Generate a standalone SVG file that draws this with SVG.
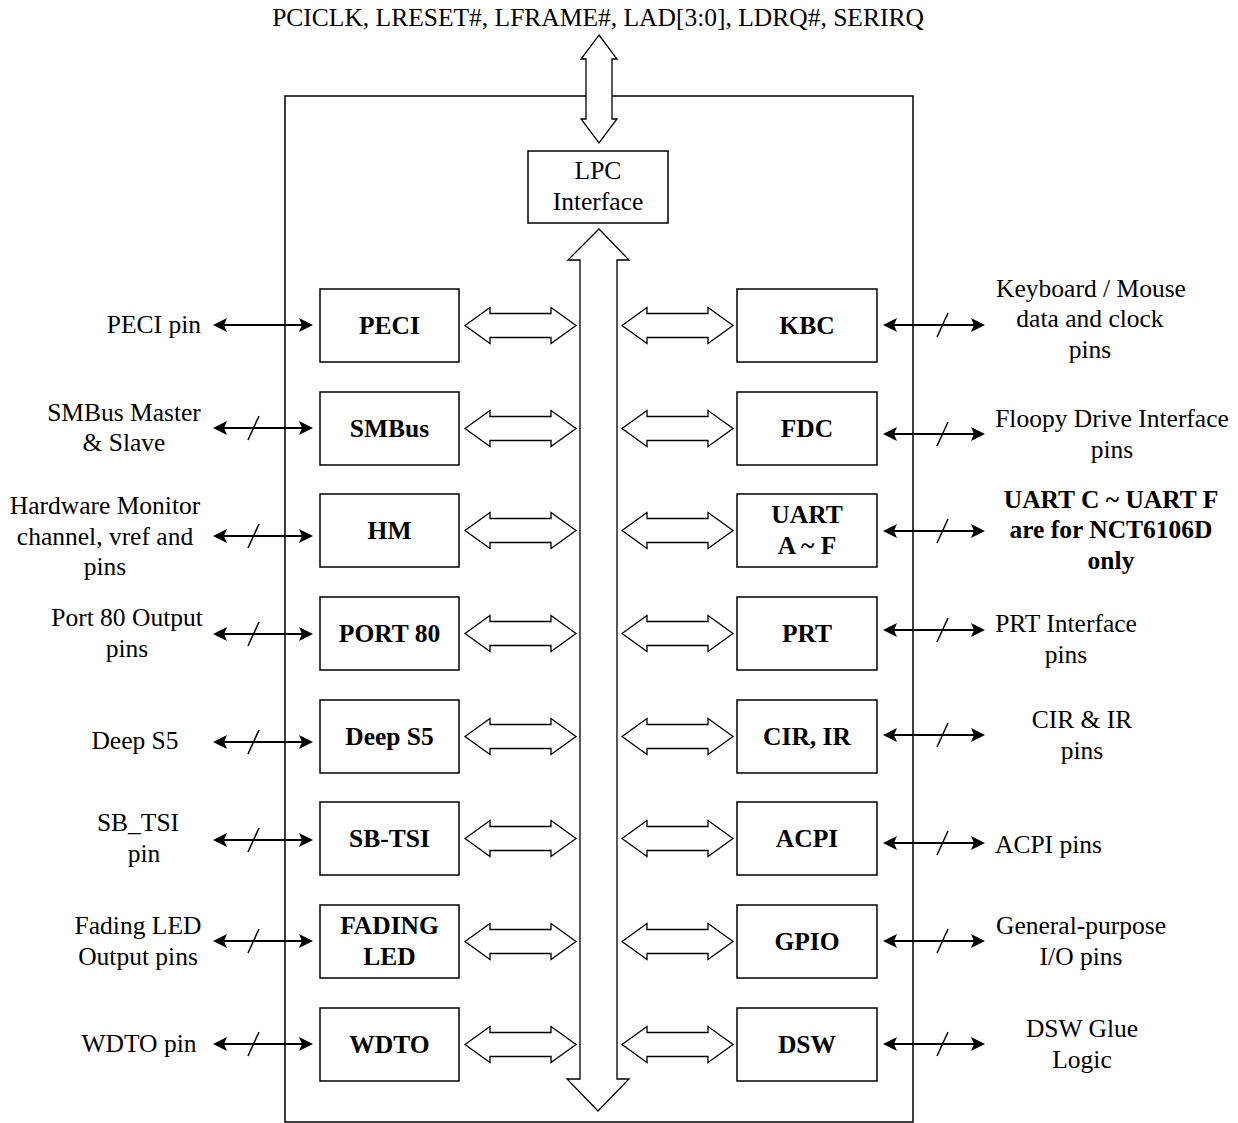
<svg xmlns="http://www.w3.org/2000/svg" width="1238" height="1123" viewBox="0 0 1238 1123">
<defs>
<style>
.t{font-family:"Liberation Serif","Times New Roman",serif;font-size:25.5px;fill:#000}
.b{font-family:"Liberation Serif","Times New Roman",serif;font-size:25.5px;font-weight:bold;fill:#000}
.m{text-anchor:middle}
.e{text-anchor:end}
.box{fill:#fff;stroke:#000;stroke-width:1.5}
.hol{fill:#fff;stroke:#000;stroke-width:1.3;stroke-linejoin:miter}
.c{stroke:#000;stroke-width:2;fill:none}
.s{stroke:#000;stroke-width:1.5}
</style>
<marker id="ah" markerUnits="userSpaceOnUse" viewBox="0 0 14 14" markerWidth="14" markerHeight="14" refX="12" refY="7" orient="auto-start-reverse">
<path d="M0,0 L14,7 L0,14 L3,7 z" fill="#000"/>
</marker>
<polygon id="hl" class="hol" points="0,0 25,-18 25,-12 86,-12 86,-18 111,0 86,18 86,12 25,12 25,18"/>
</defs>

<rect x="285" y="96" width="628" height="1026" fill="#fff" stroke="#000" stroke-width="1.5"/>

<text class="t m" x="598" y="26">PCICLK, LRESET#, LFRAME#, LAD[3:0], LDRQ#, SERIRQ</text>

<g id="bus">
<polygon class="hol" points="599,35 617,59 612,59 612,119 617,119 599,143 581,119 586,119 586,59 581,59"/>
<polygon class="hol" points="599,229 629,260 617,260 617,1079 629,1079 598,1111 567,1079 580,1079 580,260 568,260"/>
</g>

<g id="lpc">
<rect class="box" x="528" y="151" width="140" height="72"/>
<text class="t m" x="598" y="179">LPC</text>
<text class="t m" x="598" y="210">Interface</text>
</g>

<g id="peci"><rect class="box" x="320" y="289" width="139" height="73"/><text class="b m" x="389.5" y="334">PECI</text></g>
<g id="smbus"><rect class="box" x="320" y="392" width="139" height="73"/><text class="b m" x="389.5" y="437">SMBus</text></g>
<g id="hm"><rect class="box" x="320" y="494" width="139" height="73"/><text class="b m" x="389.5" y="539">HM</text></g>
<g id="port80"><rect class="box" x="320" y="597" width="139" height="73"/><text class="b m" x="389.5" y="642">PORT 80</text></g>
<g id="deeps5"><rect class="box" x="320" y="700" width="139" height="73"/><text class="b m" x="389.5" y="745">Deep S5</text></g>
<g id="sbtsi"><rect class="box" x="320" y="802" width="139" height="73"/><text class="b m" x="389.5" y="847">SB-TSI</text></g>
<g id="fadingled"><rect class="box" x="320" y="905" width="139" height="73"/><text class="b m" x="389.5" y="934">FADING</text><text class="b m" x="389.5" y="965">LED</text></g>
<g id="wdto"><rect class="box" x="320" y="1008" width="139" height="73"/><text class="b m" x="389.5" y="1053">WDTO</text></g>

<g id="kbc"><rect class="box" x="737" y="289" width="140" height="73"/><text class="b m" x="807" y="334">KBC</text></g>
<g id="fdc"><rect class="box" x="737" y="392" width="140" height="73"/><text class="b m" x="807" y="437">FDC</text></g>
<g id="uart"><rect class="box" x="737" y="494" width="140" height="73"/><text class="b m" x="807" y="523">UART</text><text class="b m" x="807" y="554">A ~ F</text></g>
<g id="prt"><rect class="box" x="737" y="597" width="140" height="73"/><text class="b m" x="807" y="642">PRT</text></g>
<g id="cirir"><rect class="box" x="737" y="700" width="140" height="73"/><text class="b m" x="807" y="745">CIR, IR</text></g>
<g id="acpi"><rect class="box" x="737" y="802" width="140" height="73"/><text class="b m" x="807" y="847">ACPI</text></g>
<g id="gpio"><rect class="box" x="737" y="905" width="140" height="73"/><text class="b m" x="807" y="950">GPIO</text></g>
<g id="dsw"><rect class="box" x="737" y="1008" width="140" height="73"/><text class="b m" x="807" y="1053">DSW</text></g>

<g id="connectors">
<use href="#hl" x="465" y="325.5"/><use href="#hl" x="622" y="325.5"/>
<use href="#hl" x="465" y="428.5"/><use href="#hl" x="622" y="428.5"/>
<use href="#hl" x="465" y="530.5"/><use href="#hl" x="622" y="530.5"/>
<use href="#hl" x="465" y="633.5"/><use href="#hl" x="622" y="633.5"/>
<use href="#hl" x="465" y="736.5"/><use href="#hl" x="622" y="736.5"/>
<use href="#hl" x="465" y="838.5"/><use href="#hl" x="622" y="838.5"/>
<use href="#hl" x="465" y="941.5"/><use href="#hl" x="622" y="941.5"/>
<use href="#hl" x="465" y="1044.5"/><use href="#hl" x="622" y="1044.5"/>

<line class="c" x1="215" y1="325" x2="311" y2="325" marker-start="url(#ah)" marker-end="url(#ah)"/>
<line class="c" x1="215" y1="428" x2="311" y2="428" marker-start="url(#ah)" marker-end="url(#ah)"/>
<line class="s" x1="248" y1="440" x2="259" y2="416"/>
<line class="c" x1="215" y1="536" x2="311" y2="536" marker-start="url(#ah)" marker-end="url(#ah)"/>
<line class="s" x1="248" y1="548" x2="259" y2="524"/>
<line class="c" x1="215" y1="634" x2="311" y2="634" marker-start="url(#ah)" marker-end="url(#ah)"/>
<line class="s" x1="248" y1="646" x2="259" y2="622"/>
<line class="c" x1="215" y1="742" x2="311" y2="742" marker-start="url(#ah)" marker-end="url(#ah)"/>
<line class="s" x1="248" y1="754" x2="259" y2="730"/>
<line class="c" x1="215" y1="840" x2="311" y2="840" marker-start="url(#ah)" marker-end="url(#ah)"/>
<line class="s" x1="248" y1="852" x2="259" y2="828"/>
<line class="c" x1="215" y1="941" x2="311" y2="941" marker-start="url(#ah)" marker-end="url(#ah)"/>
<line class="s" x1="248" y1="953" x2="259" y2="929"/>
<line class="c" x1="215" y1="1044" x2="311" y2="1044" marker-start="url(#ah)" marker-end="url(#ah)"/>
<line class="s" x1="248" y1="1056" x2="259" y2="1032"/>

<line class="c" x1="885" y1="325" x2="983" y2="325" marker-start="url(#ah)" marker-end="url(#ah)"/>
<line class="s" x1="937" y1="337" x2="948" y2="313"/>
<line class="c" x1="885" y1="434" x2="983" y2="434" marker-start="url(#ah)" marker-end="url(#ah)"/>
<line class="s" x1="937" y1="446" x2="948" y2="422"/>
<line class="c" x1="885" y1="531" x2="983" y2="531" marker-start="url(#ah)" marker-end="url(#ah)"/>
<line class="s" x1="937" y1="543" x2="948" y2="519"/>
<line class="c" x1="885" y1="630" x2="983" y2="630" marker-start="url(#ah)" marker-end="url(#ah)"/>
<line class="s" x1="937" y1="642" x2="948" y2="618"/>
<line class="c" x1="885" y1="735" x2="983" y2="735" marker-start="url(#ah)" marker-end="url(#ah)"/>
<line class="s" x1="937" y1="747" x2="948" y2="723"/>
<line class="c" x1="885" y1="843" x2="983" y2="843" marker-start="url(#ah)" marker-end="url(#ah)"/>
<line class="s" x1="937" y1="855" x2="948" y2="831"/>
<line class="c" x1="885" y1="941" x2="983" y2="941" marker-start="url(#ah)" marker-end="url(#ah)"/>
<line class="s" x1="937" y1="953" x2="948" y2="929"/>
<line class="c" x1="885" y1="1044" x2="983" y2="1044" marker-start="url(#ah)" marker-end="url(#ah)"/>
<line class="s" x1="937" y1="1056" x2="948" y2="1032"/>
</g>

<g id="left-labels">
<text class="t e" x="201" y="333">PECI pin</text>
<text class="t m" x="124" y="421">SMBus Master</text>
<text class="t m" x="124" y="451">&amp; Slave</text>
<text class="t m" x="105" y="514">Hardware Monitor</text>
<text class="t m" x="105" y="545">channel, vref and</text>
<text class="t m" x="105" y="575">pins</text>
<text class="t m" x="127" y="626">Port 80 Output</text>
<text class="t m" x="127" y="657">pins</text>
<text class="t m" x="135" y="749">Deep S5</text>
<text class="t m" x="138" y="831">SB_TSI</text>
<text class="t m" x="144" y="862">pin</text>
<text class="t m" x="138" y="934">Fading LED</text>
<text class="t m" x="138" y="965">Output pins</text>
<text class="t m" x="139" y="1052">WDTO pin</text>
</g>

<g id="right-labels">
<text class="t m" x="1091" y="297">Keyboard / Mouse</text>
<text class="t m" x="1090" y="327">data and clock</text>
<text class="t m" x="1090" y="358">pins</text>
<text class="t m" x="1112" y="427">Floopy Drive Interface</text>
<text class="t m" x="1112" y="458">pins</text>
<text class="b m" x="1111" y="508">UART C ~ UART F</text>
<text class="b m" x="1111" y="538">are for NCT6106D</text>
<text class="b m" x="1111" y="569">only</text>
<text class="t m" x="1066" y="632">PRT Interface</text>
<text class="t m" x="1066" y="663">pins</text>
<text class="t m" x="1082" y="728">CIR &amp; IR</text>
<text class="t m" x="1082" y="759">pins</text>
<text class="t" x="995" y="853">ACPI pins</text>
<text class="t m" x="1081" y="934">General-purpose</text>
<text class="t m" x="1081" y="965">I/O pins</text>
<text class="t m" x="1082" y="1037">DSW Glue</text>
<text class="t m" x="1082" y="1068">Logic</text>
</g>
</svg>
